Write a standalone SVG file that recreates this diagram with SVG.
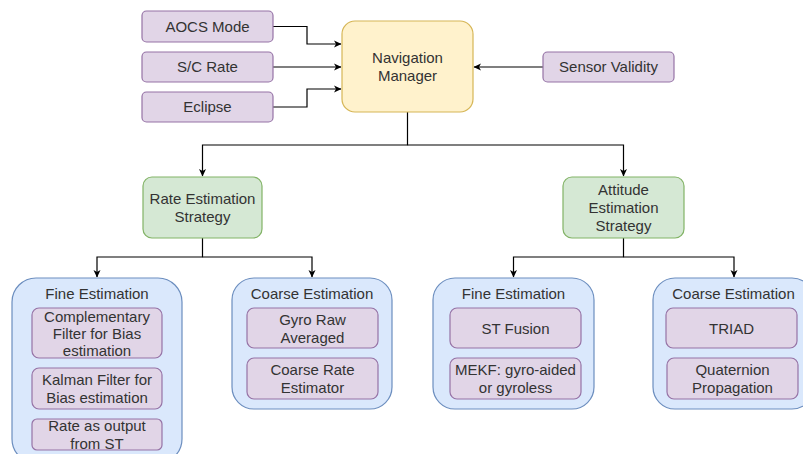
<svg xmlns="http://www.w3.org/2000/svg" width="803" height="454" viewBox="0 0 803 454">
<defs>
<marker id="ah" markerWidth="8" markerHeight="8" refX="7" refY="4" orient="auto" markerUnits="userSpaceOnUse">
<path d="M0,0.5 L7.5,4 L0,7.5 L2,4 z" fill="#000"/>
</marker>
<style>
text{font-family:"Liberation Sans",Arial,sans-serif;font-size:15px;fill:#333;text-anchor:middle}
.p{fill:#e1d5e7;stroke:#9673a6;stroke-width:1.2}
.g{fill:#d5e8d4;stroke:#82b366;stroke-width:1.2}
.b{fill:#dae8fc;stroke:#6c8ebf;stroke-width:1.2}
.y{fill:#fff2cc;stroke:#d6b656;stroke-width:1.2}
.c{fill:none;stroke:#000;stroke-width:1.2;marker-end:url(#ah)}
</style>
</defs>
<rect width="803" height="454" fill="#fff"/>
<g id="connectors">
<path class="c" d="M273,26.5 H307 V44 H341"/>
<path class="c" d="M273,67 H341"/>
<path class="c" d="M273,107 H307 V89 H341"/>
<path class="c" d="M543,67 H474"/>
<path class="c" d="M407.5,112 V145 H202.5 V176"/>
<path class="c" d="M407.5,145 H623.5 V176"/>
<path class="c" d="M202.5,238 V257 H97 V277"/>
<path class="c" d="M202.5,257 H312 V277"/>
<path class="c" d="M623.5,238 V257 H513.5 V277"/>
<path class="c" d="M623.5,257 H734 V277"/>
</g>
<g id="aocs-mode"><rect class="p" x="142" y="11" width="131" height="31" rx="4.5"/><text x="207.5" y="31.5">AOCS Mode</text></g>
<g id="sc-rate"><rect class="p" x="142" y="52" width="131" height="30" rx="4.5"/><text x="207.5" y="72">S/C Rate</text></g>
<g id="eclipse"><rect class="p" x="142" y="92" width="131" height="30" rx="4.5"/><text x="207.5" y="112">Eclipse</text></g>
<g id="nav-manager"><rect class="y" x="342" y="21" width="131" height="91" rx="13"/><text x="407.5" y="63">Navigation</text><text x="407.5" y="81">Manager</text></g>
<g id="sensor-validity"><rect class="p" x="543" y="52" width="131" height="30" rx="4.5"/><text x="608.5" y="72">Sensor Validity</text></g>
<g id="rate-strategy"><rect class="g" x="143" y="177" width="119" height="61" rx="9"/><text x="202.5" y="204">Rate Estimation</text><text x="202.5" y="222">Strategy</text></g>
<g id="attitude-strategy"><rect class="g" x="563" y="177" width="121" height="61" rx="9"/><text x="623.5" y="195">Attitude</text><text x="623.5" y="213">Estimation</text><text x="623.5" y="231">Strategy</text></g>
<g id="rate-fine"><rect class="b" x="12" y="278" width="170" height="185" rx="24"/><text x="97" y="299">Fine Estimation</text>
<rect class="p" x="32" y="308" width="130" height="50" rx="7"/><text x="97" y="321.5">Complementary</text><text x="97" y="338.5">Filter for Bias</text><text x="97" y="356">estimation</text>
<rect class="p" x="32" y="368" width="130" height="41" rx="7"/><text x="97" y="385">Kalman Filter for</text><text x="97" y="402.5">Bias estimation</text>
<rect class="p" x="32" y="419" width="130" height="31" rx="5"/><text x="97" y="431">Rate as output</text><text x="97" y="448.5">from ST</text></g>
<g id="rate-coarse"><rect class="b" x="232" y="278" width="160" height="131" rx="22"/><text x="312" y="299">Coarse Estimation</text>
<rect class="p" x="247" y="308" width="131" height="40" rx="7"/><text x="312.5" y="325">Gyro Raw</text><text x="312.5" y="343">Averaged</text>
<rect class="p" x="247" y="358" width="131" height="41" rx="7"/><text x="312.5" y="375">Coarse Rate</text><text x="312.5" y="393">Estimator</text></g>
<g id="att-fine"><rect class="b" x="433" y="278" width="161" height="131" rx="22"/><text x="513.5" y="299">Fine Estimation</text>
<rect class="p" x="450" y="308" width="131" height="40" rx="7"/><text x="515.5" y="334">ST Fusion</text>
<rect class="p" x="450" y="358" width="131" height="41" rx="7"/><text x="515.5" y="375">MEKF: gyro-aided</text><text x="515.5" y="393">or gyroless</text></g>
<g id="att-coarse"><rect class="b" x="653" y="278" width="161" height="131" rx="22"/><text x="733.5" y="299">Coarse Estimation</text>
<rect class="p" x="666" y="308" width="131" height="40" rx="7"/><text x="731.5" y="334">TRIAD</text>
<rect class="p" x="667" y="358" width="131" height="41" rx="7"/><text x="732.5" y="375">Quaternion</text><text x="732.5" y="393">Propagation</text></g>
</svg>
